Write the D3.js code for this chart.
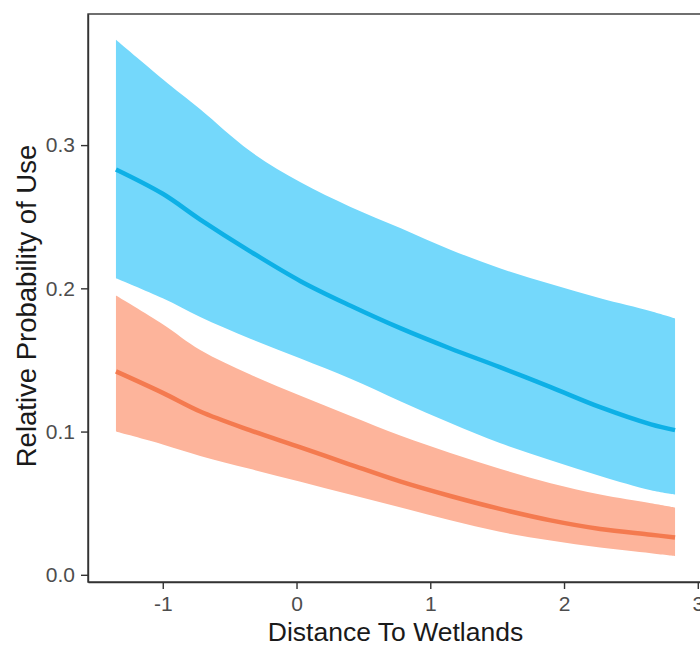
<meta charset="utf-8">
<script src="https://cdn.jsdelivr.net/npm/d3@7"></script>

<svg id="vis"></svg>

<script>

  /***** DATA *****/

  // Distance to wetlands (scaled) at which the fits were read
  var distance = [-1.35, -1.0, -0.72, -0.35, 0.03, 0.40, 0.78, 1.15, 1.52, 1.90, 2.27, 2.65, 2.83]

  // Blue group: fit and confidence band
  var blueFit   = [0.283, 0.266, 0.248, 0.226, 0.205, 0.188, 0.172, 0.158, 0.145, 0.131, 0.117, 0.105, 0.101]
  var blueLower = [0.207, 0.193, 0.180, 0.165, 0.151, 0.137, 0.121, 0.106, 0.092, 0.080, 0.069, 0.059, 0.056]
  var blueUpper = [0.3735, 0.346, 0.325, 0.296, 0.274, 0.257, 0.242, 0.227, 0.214, 0.203, 0.193, 0.184, 0.179]

  // Orange group: fit and confidence band
  var orangeFit   = [0.142, 0.127, 0.114, 0.101, 0.089, 0.077, 0.065, 0.055, 0.046, 0.038, 0.032, 0.028, 0.026]
  var orangeLower = [0.100, 0.091, 0.083, 0.074, 0.065, 0.056, 0.047, 0.038, 0.030, 0.024, 0.019, 0.015, 0.013]
  var orangeUpper = [0.195, 0.175, 0.157, 0.140, 0.125, 0.111, 0.097, 0.085, 0.074, 0.064, 0.056, 0.050, 0.047]

  var xTicks = [-1, 0, 1, 2, 3]
  var yTicks = [0, 0.1, 0.2, 0.3]


  /***** SETUP *****/

  var width = 700
  var height = 646
  var margin = {top: 14, right: -3, bottom: 64, left: 88}

  var svg = d3.select('#vis')
    .attr('width', width)
    .attr('height', height)
    .style('background-color', 'white')
    .style('font-family', 'Liberation Sans, Arial, sans-serif')

  // ggplot style 5% expansion on both scales
  function expand(ext) {
    var pad = (ext[1] - ext[0]) * 0.05
    return [ext[0] - pad, ext[1] + pad]
  }

  var x = d3.scaleLinear()
    .domain(expand(d3.extent(distance)))
    .range([margin.left, width - margin.right])

  var allY = blueUpper.concat(blueLower, orangeUpper, orangeLower)
  var y = d3.scaleLinear()
    .domain(expand(d3.extent(allY)))
    .range([height - margin.bottom, margin.top])

  function rows(fit, lower, upper) {
    return distance.map(function (d, i) {
      return {x: d, fit: fit[i], lo: lower[i], hi: upper[i]}
    })
  }

  var groups = [
    {rows: rows(blueFit, blueLower, blueUpper), fill: '#74d8fb', stroke: '#0db0e6'},
    {rows: rows(orangeFit, orangeLower, orangeUpper), fill: '#fdb49b', stroke: '#f47a4f'}
  ]

  var area = d3.area()
    .x(function (d) { return x(d.x) })
    .y0(function (d) { return y(d.lo) })
    .y1(function (d) { return y(d.hi) })
    .curve(d3.curveCatmullRom.alpha(0.5))

  var line = d3.line()
    .x(function (d) { return x(d.x) })
    .y(function (d) { return y(d.fit) })
    .curve(d3.curveCatmullRom.alpha(0.5))


  /***** RIBBONS AND LINES *****/

  groups.forEach(function (g) {
    svg.append('path')
      .datum(g.rows)
      .attr('d', area)
      .attr('fill', g.fill)
  })

  groups.forEach(function (g) {
    svg.append('path')
      .datum(g.rows)
      .attr('d', line)
      .attr('fill', 'none')
      .attr('stroke', g.stroke)
      .attr('stroke-width', 4.5)
  })


  /***** PANEL BORDER AND AXES *****/

  svg.append('rect')
    .attr('x', margin.left)
    .attr('y', margin.top)
    .attr('width', width - margin.right - margin.left)
    .attr('height', height - margin.bottom - margin.top)
    .attr('fill', 'none')
    .attr('stroke', '#333333')
    .attr('stroke-width', 1.4)

  var xAxis = svg.append('g')
    .attr('transform', 'translate(0,' + (height - margin.bottom) + ')')
    .call(d3.axisBottom(x).tickValues(xTicks).tickFormat(function (d) { return String(d) })
      .tickSize(7).tickSizeOuter(0).tickPadding(7))

  var yAxis = svg.append('g')
    .attr('transform', 'translate(' + margin.left + ',0)')
    .call(d3.axisLeft(y).tickValues(yTicks).tickFormat(d3.format('.1f'))
      .tickSize(7).tickSizeOuter(0).tickPadding(6))

  ;[xAxis, yAxis].forEach(function (a) {
    a.select('.domain').attr('stroke', '#333333').attr('stroke-width', 1.4)
    a.selectAll('.tick line').attr('stroke', '#333333').attr('stroke-width', 1.4)
    a.selectAll('.tick text')
      .attr('fill', '#4d4d4d')
      .style('font-size', '21px')
      .style('font-family', 'Liberation Sans, Arial, sans-serif')
  })

  // Axis titles
  svg.append('text')
    .text('Distance To Wetlands')
    .attr('text-anchor', 'middle')
    .attr('x', (margin.left + width - margin.right) / 2)
    .attr('y', 641)
    .style('font-size', '26.5px')
    .style('fill', '#1a1a1a')

  svg.append('text')
    .text('Relative Probability of Use')
    .attr('text-anchor', 'middle')
    .attr('transform', 'translate(36,' + ((margin.top + height - margin.bottom) / 2 + 8) + ') rotate(-90)')
    .style('font-size', '27.5px')
    .style('fill', '#1a1a1a')

</script>

<body style="margin: 0;"></body>
